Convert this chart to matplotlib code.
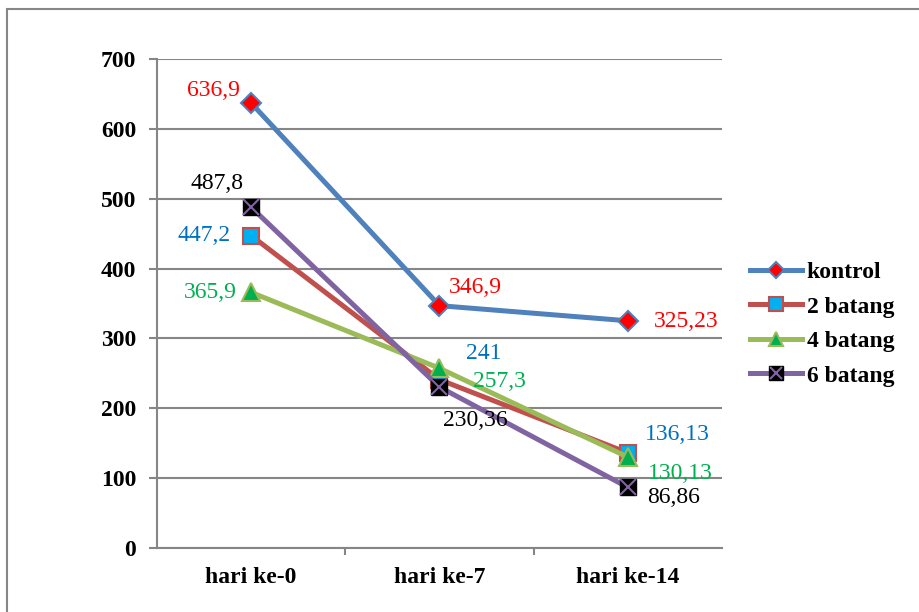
import matplotlib
matplotlib.use("Agg")
import matplotlib.pyplot as plt
from matplotlib.patches import Rectangle
from matplotlib.legend_handler import HandlerTuple

plt.rcParams['font.family'] = ['Liberation Serif', 'DejaVu Serif']

days = ["hari ke-0", "hari ke-7", "hari ke-14"]
kontrol = [636.9, 346.9, 325.23]
batang2 = [447.2, 241, 136.13]
batang4 = [365.9, 257.3, 130.13]
batang6 = [487.8, 230.36, 86.86]
y_ticks = [0, 100, 200, 300, 400, 500, 600, 700]

# data label text (as printed) and pixel offsets from the point
lab_kontrol = ["636,9", "346,9", "325,23"]
lab_b2 = ["447,2", "241", "136,13"]
lab_b4 = ["365,9", "257,3", "130,13"]
lab_b6 = ["487,8", "230,36", "86,86"]

fig = plt.figure(figsize=(9.2, 6.12), dpi=100)
ax = fig.add_axes([157 / 920, 64 / 612, 565 / 920, 489 / 612])

x = list(range(len(days)))
grid_c = "#868686"

ax.plot(x, kontrol, color="#4F81BD", lw=3.6, marker="D", ms=10,
        mfc="#FF0000", mec="#4F81BD", mew=1.5, label="kontrol", zorder=3)
ax.plot(x, batang2, color="#C0504D", lw=3.6, marker="s", ms=12,
        mfc="#00B0F0", mec="#C0504D", mew=1.5, label="2 batang", zorder=3)
ax.plot(x, batang4, color="#9BBB59", lw=3.6, marker="^", ms=13,
        mfc="#00B050", mec="#9BBB59", mew=1.5, label="4 batang", zorder=3)
l6, = ax.plot(x, batang6, color="#8064A2", lw=3.6, marker="s", ms=12,
              mfc="black", mec="black", mew=1, zorder=3)
l6x, = ax.plot(x, batang6, ls="none", marker="x", ms=11, mec="#8064A2",
               mew=1.5, zorder=4)

fs = 17
def labels(vals, texts, offs, color, ha):
    for i, (v, t, o, h) in enumerate(zip(vals, texts, offs, ha)):
        ax.annotate(t, (i, v), xytext=o, textcoords="offset pixels",
                    ha=h, va="center", fontsize=fs, color=color)

labels(kontrol, lab_kontrol, [(-11, 13), (9, 18), (26, -1)], "#FF0000",
       ["right", "left", "left"])
labels(batang2, lab_b2, [(-21, 0), (27, 26), (17, 18)], "#0070C0",
       ["right", "left", "left"])
labels(batang4, lab_b4, [(-14, 0), (34, -13), (20, -16)], "#00B050",
       ["right", "left", "left"])
labels(batang6, lab_b6, [(-8, 24), (4, -33), (19, -10)], "black",
       ["right", "left", "left"])

ax.set_xlim(-0.5, 2.5)
ax.set_ylim(0, 700)
ax.set_yticks(y_ticks)
ax.set_yticklabels([str(t) for t in y_ticks], fontsize=fs, fontweight="bold")
ax.set_xticks(x)
ax.set_xticklabels(days, fontsize=fs, fontweight="bold")
ax.set_xticks([0.5, 1.5], minor=True)
ax.tick_params(axis="x", which="major", length=0, pad=14)
ax.tick_params(axis="x", which="minor", length=5, color=grid_c, width=1.5)
ax.tick_params(axis="y", length=6, color=grid_c, width=1.5, pad=9)
ax.grid(axis="y", color=grid_c, lw=1.5)
ax.set_axisbelow(True)
for s in ["top", "right"]:
    ax.spines[s].set_visible(False)
for s in ["left", "bottom"]:
    ax.spines[s].set_color(grid_c)
    ax.spines[s].set_linewidth(1.5)

fig.legend([ax.lines[0], ax.lines[1], ax.lines[2], (l6, l6x)],
           ["kontrol", "2 batang", "4 batang", "6 batang"],
           handler_map={tuple: HandlerTuple(ndivide=1)},
           loc="center left", bbox_to_anchor=(750 / 920, 1 - 324 / 612),
           frameon=False, borderpad=0, borderaxespad=0, markerscale=0.8,
           handlelength=2.2, handletextpad=0.2, labelspacing=0.55,
           prop={"size": fs, "weight": "bold"})

fig.patches.append(Rectangle((7 / 920, -0.1), 1.2, 1 - 9 / 612 + 0.1,
                             transform=fig.transFigure, fill=False,
                             edgecolor=grid_c, lw=1.5))

fig.savefig("out.png", dpi=100)
